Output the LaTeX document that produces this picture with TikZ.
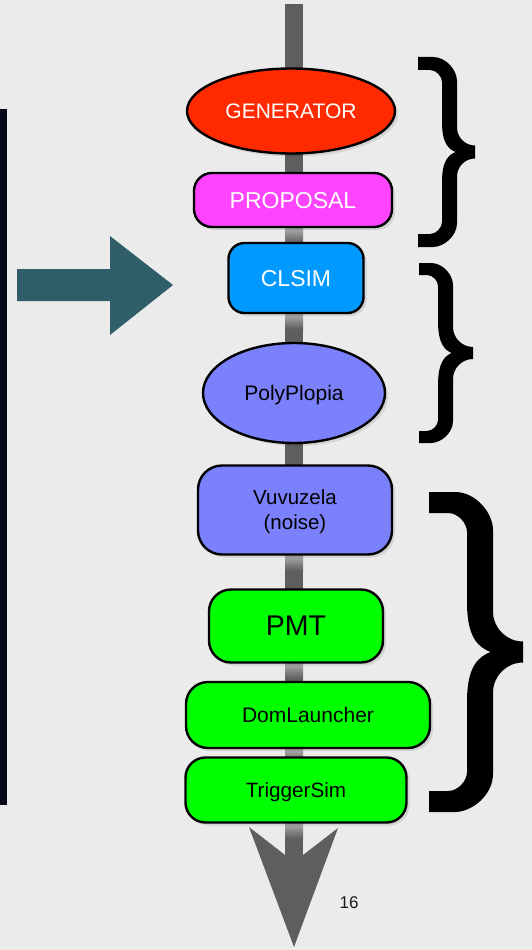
\documentclass[tikz,border=0pt]{standalone}
\usepackage{fontspec}
\setmainfont{Liberation Sans}
\usetikzlibrary{shapes.geometric,shadows,calc}

\definecolor{bgcol}{HTML}{EBEBEB}
\definecolor{stripcol}{HTML}{07071A}
\definecolor{tealarrow}{HTML}{305E68}
\definecolor{shaftgray}{HTML}{5E5E5E}
\definecolor{shaftlight}{HTML}{ABABAB}
\definecolor{genred}{HTML}{FF2A00}
\definecolor{propmag}{HTML}{FF44FF}
\definecolor{clsimblue}{HTML}{0099FF}
\definecolor{lavender}{HTML}{7B80FB}
\definecolor{pmtgreen}{HTML}{00FF00}

\pgfdeclarelayer{back}
\pgfdeclarelayer{mid}
\pgfsetlayers{back,mid,main}

% filled curly brace: x0, y0, y1, outer x of the stem, x of the tip,
% stem thickness, arm thickness, outer corner radius (y grows downwards)
\newcommand\curlybrace[8]{%
  \pgfmathsetmacro\brYm{(#2+#3)/2}%
  \pgfmathsetmacro\brH{#7/2}%
  \pgfmathsetmacro\brM{#5-#4}%
  \pgfmathsetmacro\brXl{#4-#6}%
  \pgfmathsetmacro\brRi{0.5*#8}%
  \fill[bracefill] (#1,#2) -- ({#4-#8},#2)
    .. controls ({#4-0.45*#8},#2) and (#4,{#2+0.55*#8}) .. (#4,{#2+#8})
    -- (#4,{\brYm-\brH-\brM})
    .. controls (#4,{\brYm-\brH-0.45*\brM}) and ({#5-0.55*\brM},{\brYm-\brH}) .. (#5,{\brYm-\brH})
    -- (#5,{\brYm+\brH})
    .. controls ({#5-0.55*\brM},{\brYm+\brH}) and (#4,{\brYm+\brH+0.45*\brM}) .. (#4,{\brYm+\brH+\brM})
    -- (#4,{#3-#8})
    .. controls (#4,{#3-0.45*#8}) and ({#4-0.55*#8},#3) .. ({#4-#8},#3)
    -- (#1,#3) -- (#1,{#3-#7}) -- ({\brXl-\brRi},{#3-#7})
    .. controls ({\brXl-0.45*\brRi},{#3-#7}) and (\brXl,{#3-#7-0.55*\brRi}) .. (\brXl,{#3-#7-\brRi})
    -- (\brXl,{\brYm+\brH+1.3*\brM})
    .. controls (\brXl,{\brYm+0.4*\brM}) and ({#4-0.5*#6},{\brYm+0.15*\brM}) .. ({#4-0.1*#6},\brYm)
    .. controls ({#4-0.5*#6},{\brYm-0.15*\brM}) and (\brXl,{\brYm-0.4*\brM}) .. (\brXl,{\brYm-\brH-1.3*\brM})
    -- (\brXl,{#2+#7+\brRi})
    .. controls (\brXl,{#2+#7+0.55*\brRi}) and ({\brXl-0.45*\brRi},{#2+#7}) .. ({\brXl-\brRi},{#2+#7})
    -- (#1,{#2+#7}) -- cycle;
}

\newcommand\fsz[1]{\fontsize{#1pt}{#1pt}\selectfont}

\begin{document}
\begin{tikzpicture}[x=1pt,y=-1pt,
  box/.style={draw=black, line width=2.4pt, inner sep=0pt, text depth=0pt,
    drop shadow={shadow xshift=3pt, shadow yshift=-3pt, opacity=0.10, fill=black}},
  roundbox/.style={box, rectangle, rounded corners=#1},
  oval/.style={box, ellipse},
  bracefill/.style={fill=black},
  highlight/.style={top color=shaftlight, bottom color=shaftgray, draw=none}]

\useasboundingbox (0,0) rectangle (532,950);

% processing chain shaft with its arrowhead, on top of the page background
\coordinate (shafttop) at (294,4);
\coordinate (shaftend) at (294,862);
\begin{pgfonlayer}{back}
  \fill[bgcol] (0,0) rectangle (532,950);
  \draw[shaftgray, line width=18pt] (shafttop) -- (shaftend);
  \fill[shaftgray] (249,827) -- (shaftend) -- (338,828) -- (294,947) -- cycle;
\end{pgfonlayer}

% dark strip on the left edge
\fill[stripcol] (0,109) rectangle (7,805);

% teal arrow pointing at the chain
\fill[tealarrow] (17,269) -- (110,269) -- (110,236) -- (173,285)
  -- (110,335) -- (110,301) -- (17,301) -- cycle;

% modules
\node[oval, fill=genred, minimum width=208pt, minimum height=85pt,
  text=white, font=\fsz{21}] (gen) at (291,111) {GENERATOR};
\node[roundbox=18pt, fill=propmag, minimum width=198pt, minimum height=54pt,
  text=white, font=\fsz{23}] (prop) at (293,200) {PROPOSAL};
\node[roundbox=16pt, fill=clsimblue, minimum width=135pt, minimum height=70pt,
  text=white, font=\fsz{23}] (clsim) at (296,278) {CLSIM};
\node[oval, fill=lavender, minimum width=182pt, minimum height=100pt,
  font=\fsz{21}] (poly) at (294,393) {PolyPlopia};
\node[roundbox=24pt, fill=lavender, minimum width=194pt, minimum height=89pt,
  font=\fontsize{20.5pt}{25pt}\selectfont, align=center] (vuv) at (295,510) {Vuvuzela\\(noise)};
\node[roundbox=22pt, fill=pmtgreen, minimum width=174pt, minimum height=73pt,
  font=\fsz{28.5}] (pmt) at (296,626) {PMT};
\node[roundbox=22pt, fill=pmtgreen, minimum width=244pt, minimum height=66pt,
  font=\fsz{21}] (dom) at (308,715) {DomLauncher};
\node[roundbox=20pt, fill=pmtgreen, minimum width=221pt, minimum height=65pt,
  font=\fsz{20.7}] (trig) at (296,790) {TriggerSim};

% lighter glow on the shaft just under the boxes
\begin{pgfonlayer}{mid}
  \foreach \n in {prop,clsim,vuv,pmt,dom,trig}
    \shade[highlight] ($(\n.south -| shafttop)+(-9,0)$) rectangle ($(\n.south -| shafttop)+(9,15)$);
\end{pgfonlayer}

% grouping braces
\curlybrace{418}{57}{247}{457}{475}{15}{13}{24}
\curlybrace{419}{263}{443}{453}{473}{15}{12}{22}
\curlybrace{429}{492}{812}{493}{523}{26}{21}{38}

% page number
\node[font=\fsz{17}, text=black!90, inner sep=0pt] (pagenum) at (349,903) {16};
\end{tikzpicture}
\end{document}
